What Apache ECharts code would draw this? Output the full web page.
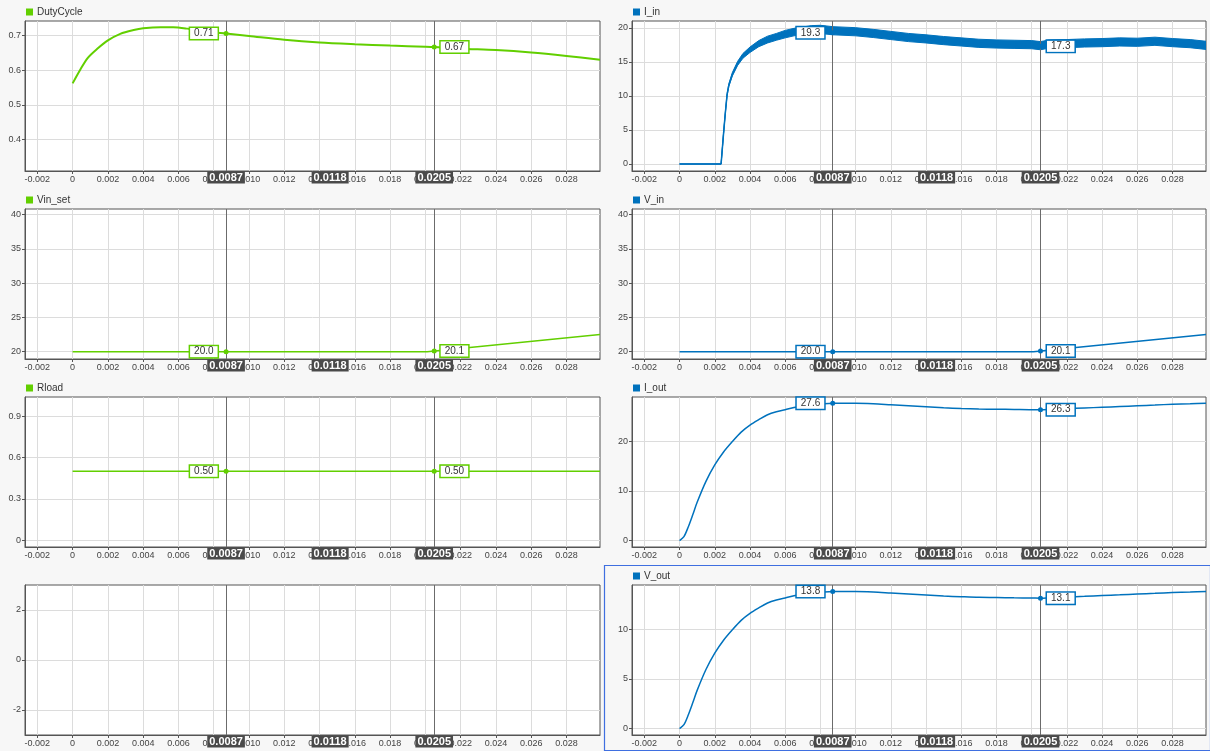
<!DOCTYPE html>
<html><head><meta charset="utf-8">
<script src="https://cdn.jsdelivr.net/npm/echarts@6/dist/echarts.min.js"></script>
<style>html,body{margin:0;padding:0;background:#f7f7f7;}#c{width:1210px;height:751px;}</style>
</head><body><div id="c"></div>
<script>
// ---------- data ----------
const xTicks = [-0.002, 0, 0.002, 0.004, 0.006, 0.008, 0.010, 0.012, 0.014, 0.016, 0.018, 0.020, 0.022, 0.024, 0.026, 0.028];
const cursorTimes = [0.0087, 0.0205];

const dutyTicks = [0.4, 0.5, 0.6, 0.7];
const vinTicks = [20, 25, 30, 35, 40];
const rloadTicks = [0, 0.3, 0.6, 0.9];
const emptyTicks = [-2, 0, 2];
const iInTicks = [0, 5, 10, 15, 20];
const iOutTicks = [0, 10, 20];
const vOutTicks = [0, 5, 10];

const dutyT = [0, 0.00044, 0.00085, 0.00138, 0.002, 0.0027, 0.00346, 0.004, 0.005, 0.0057, 0.0065, 0.0072, 0.008, 0.0087, 0.010, 0.012, 0.014, 0.016, 0.018, 0.020, 0.0205, 0.022, 0.024, 0.026, 0.028, 0.0299];
const dutyV = [0.562, 0.602, 0.635, 0.661, 0.686, 0.705, 0.716, 0.721, 0.724, 0.724, 0.720, 0.714, 0.709, 0.706, 0.699, 0.688, 0.680, 0.675, 0.671, 0.668, 0.667, 0.662, 0.658, 0.651, 0.641, 0.630];
const dutyCursor = [0.706, 0.667];

const vinT = [0, 0.0201, 0.0299];
const vinSetV = [20.0, 20.0, 22.5];
const vinSetCursor = [20.0, 20.1];
const vInV = [20.0, 20.0, 22.5];
const vInCursor = [20.0, 20.1];

const rloadT = [0, 0.0299];
const rloadV = [0.5, 0.5];
const rloadCursor = [0.5, 0.5];

const iInT = [0, 0.00236, 0.0025, 0.0026, 0.0027, 0.0028, 0.003, 0.0033, 0.0036, 0.004, 0.0045, 0.005, 0.0055, 0.006, 0.0065, 0.007, 0.0075, 0.008, 0.0087, 0.010, 0.011, 0.012, 0.013, 0.014, 0.015, 0.016, 0.017, 0.018, 0.019, 0.020, 0.0205, 0.021, 0.022, 0.023, 0.024, 0.025, 0.026, 0.027, 0.028, 0.029, 0.0299];
const iInV = [0, 0, 4.5, 7.5, 10.2, 11.6, 13.2, 14.8, 15.9, 16.8, 17.7, 18.3, 18.7, 19.1, 19.4, 19.6, 19.75, 19.8, 19.6, 19.45, 19.2, 18.9, 18.6, 18.4, 18.15, 17.95, 17.75, 17.65, 17.6, 17.55, 17.4, 17.65, 17.7, 17.8, 17.85, 17.95, 17.9, 18.05, 17.85, 17.7, 17.45];
const iInRipple = [0, 0, 0.05, 0.1, 0.15, 0.2, 0.25, 0.3, 0.35, 0.4, 0.45, 0.5, 0.5, 0.55, 0.55, 0.55, 0.6, 0.6, 0.6, 0.6, 0.6, 0.6, 0.6, 0.6, 0.6, 0.6, 0.6, 0.6, 0.6, 0.6, 0.6, 0.6, 0.6, 0.6, 0.6, 0.6, 0.6, 0.6, 0.6, 0.6, 0.6];
const iInCursor = [19.3, 17.3];

const outT = [0, 0.00025, 0.0005, 0.00075, 0.001, 0.0015, 0.002, 0.0025, 0.003, 0.0035, 0.004, 0.0045, 0.005, 0.0055, 0.006, 0.0065, 0.007, 0.0075, 0.008, 0.0087, 0.010, 0.011, 0.012, 0.013, 0.014, 0.015, 0.016, 0.017, 0.018, 0.019, 0.020, 0.0205, 0.021, 0.022, 0.023, 0.024, 0.025, 0.026, 0.027, 0.028, 0.029, 0.0299];
const iOutV = [0, 0.8, 2.8, 5.2, 7.7, 11.9, 15.2, 17.8, 19.9, 21.8, 23.2, 24.3, 25.3, 25.9, 26.3, 26.75, 27.05, 27.3, 27.45, 27.6, 27.6, 27.5, 27.3, 27.1, 26.9, 26.7, 26.55, 26.45, 26.4, 26.35, 26.3, 26.3, 26.35, 26.5, 26.65, 26.8, 26.95, 27.1, 27.25, 27.4, 27.5, 27.6];
const iOutCursor = [27.6, 26.3];
const vOutV = [0, 0.4, 1.4, 2.6, 3.85, 5.95, 7.6, 8.9, 9.95, 10.9, 11.6, 12.15, 12.65, 12.95, 13.15, 13.38, 13.52, 13.65, 13.72, 13.8, 13.8, 13.75, 13.65, 13.55, 13.45, 13.35, 13.28, 13.22, 13.2, 13.17, 13.15, 13.13, 13.17, 13.25, 13.32, 13.4, 13.47, 13.55, 13.62, 13.7, 13.75, 13.8];
const vOutCursor = [13.8, 13.13];

// ---------- layout / style ----------
const GREEN = '#62cf00', BLUE = '#0072bd';
const FONT = 'Liberation Sans, Arial, sans-serif';
const colLeft = [25, 632], colWidth = [575, 574];
const rowTop = [21, 209, 397, 585], rowH = 150;
const xMin = -0.0027, xMax = 0.0299;

const panels = [
  {name: 'DutyCycle', col: 0, row: 0, color: GREEN, yMin: 0.309, yMax: 0.742, ticks: dutyTicks, t: dutyT, v: dutyV, cur: dutyCursor, dec: 2, w: 2, smooth: 0.3},
  {name: 'Vin_set', col: 0, row: 1, color: GREEN, yMin: 18.93, yMax: 40.83, ticks: vinTicks, t: vinT, v: vinSetV, cur: vinSetCursor, dec: 1, w: 1.5},
  {name: 'Rload', col: 0, row: 2, color: GREEN, yMin: -0.05, yMax: 1.04, ticks: rloadTicks, t: rloadT, v: rloadV, cur: rloadCursor, dec: 2, w: 1.5},
  {name: null, col: 0, row: 3, color: GREEN, yMin: -3, yMax: 3, ticks: emptyTicks},
  {name: 'I_in', col: 1, row: 0, color: BLUE, yMin: -1.03, yMax: 21.03, ticks: iInTicks, t: iInT, v: iInV, band: iInRipple, cur: iInCursor, dec: 1, w: 1.5},
  {name: 'V_in', col: 1, row: 1, color: BLUE, yMin: 18.93, yMax: 40.83, ticks: vinTicks, t: vinT, v: vInV, cur: vInCursor, dec: 1, w: 1.5},
  {name: 'I_out', col: 1, row: 2, color: BLUE, yMin: -1.28, yMax: 28.86, ticks: iOutTicks, t: outT, v: iOutV, cur: iOutCursor, dec: 1, w: 1.5, smooth: 0.3},
  {name: 'V_out', col: 1, row: 3, color: BLUE, yMin: -0.64, yMax: 14.46, ticks: vOutTicks, t: outT, v: vOutV, cur: vOutCursor, dec: 1, w: 1.5, smooth: 0.3}
];

const grid = [], xAxis = [], yAxis = [], series = [], legend = [];
const zip = (t, v) => t.map((x, i) => [x, v[i]]);

panels.forEach((p, i) => {
  grid.push({left: colLeft[p.col], top: rowTop[p.row], width: colWidth[p.col], height: rowH,
    show: true, backgroundColor: '#ffffff', borderColor: '#555', borderWidth: 1});
  xAxis.push({type: 'value', gridIndex: i, min: xMin, max: xMax,
    axisLine: {show: true, onZero: false, lineStyle: {color: '#555'}},
    axisTick: {show: true, length: 3, customValues: xTicks, lineStyle: {color: '#555'}},
    axisLabel: {customValues: xTicks, fontSize: 9, color: '#444', fontFamily: FONT, margin: 4,
      formatter: v => (Math.abs(v) < 1e-12 ? '0' : v.toFixed(3))},
    splitLine: {show: true, lineStyle: {color: '#dcdcdc', width: 1}}});
  yAxis.push({type: 'value', gridIndex: i, min: p.yMin, max: p.yMax,
    axisLine: {show: true, onZero: false, lineStyle: {color: '#555'}},
    axisTick: {show: true, length: 3, customValues: p.ticks, lineStyle: {color: '#555'}},
    axisLabel: {customValues: p.ticks, fontSize: 9, color: '#444', fontFamily: FONT, margin: 4,
      formatter: v => String(p.ticks.find(t => Math.abs(t - v) < 1e-9) ?? v)},
    splitLine: {show: true, lineStyle: {color: '#dcdcdc', width: 1}}});

  // cursor markers
  const mp = [];
  const axisLbl = (x, txt) => ({coord: [x, p.yMin], symbol: 'rect', symbolSize: 1,
    itemStyle: {color: 'rgba(0,0,0,0)'},
    label: {show: true, position: 'bottom', distance: 0, formatter: txt, backgroundColor: '#4a4a4a',
      color: '#fff', fontWeight: 'bold', fontSize: 11, fontFamily: FONT, padding: [1, 2, 0, 2]}});
  cursorTimes.forEach(c => mp.push(axisLbl(c, c.toFixed(4))));
  mp.push(axisLbl((cursorTimes[0] + cursorTimes[1]) / 2, (cursorTimes[1] - cursorTimes[0]).toFixed(4)));
  if (p.cur) {
    p.cur.forEach((val, k) => mp.push({coord: [cursorTimes[k], val], symbol: 'circle', symbolSize: 5,
      itemStyle: {color: p.color},
      label: {show: true, position: k === 0 ? 'left' : 'right', distance: k === 0 ? 6 : 4,
        formatter: val.toFixed(p.dec), backgroundColor: '#fff', borderColor: p.color, borderWidth: 1.5,
        padding: [1, 4, 0, 4], color: '#333', fontSize: 10, fontFamily: FONT}}));
  }

  if (p.band) {
    const lo = p.v.map((v, k) => v - p.band[k]);
    const hi = p.v.map((v, k) => v + p.band[k]);
    series.push({type: 'custom', name: 'I_in_band', xAxisIndex: i, yAxisIndex: i, silent: true,
      animation: false, z: 2, clip: true,
      data: p.t.map((t, k) => [t, lo[k], hi[k]]),
      renderItem: (params, api) => {
        if (params.dataIndex !== 0) return null;
        const pts = [];
        for (let k = 0; k < p.t.length; k++) pts.push(api.coord([p.t[k], hi[k]]));
        for (let k = p.t.length - 1; k >= 0; k--) pts.push(api.coord([p.t[k], lo[k]]));
        return {type: 'polygon', shape: {points: pts}, style: {fill: p.color, stroke: p.color, lineWidth: 1}};
      }});
  }

  series.push({type: 'line', name: p.name || ('empty' + i), xAxisIndex: i, yAxisIndex: i,
    data: p.t ? zip(p.t, p.v) : [], showSymbol: false, smooth: p.smooth || false,
    color: p.color, lineStyle: {color: p.color, width: p.w || 1.5}, animation: false, z: 3,
    markLine: {symbol: ['none', 'none'], silent: true, animation: false, label: {show: false},
      precision: 6,
      lineStyle: {color: '#6b6b6b', width: 1, type: 'solid'},
      data: cursorTimes.map(c => [{coord: [c, p.yMin]}, {coord: [c, p.yMax]}])},
    markPoint: {silent: true, animation: false, data: mp}});

  if (p.name) {
    legend.push({data: [p.name], left: colLeft[p.col] + 1, top: rowTop[p.row] - 14,
      icon: 'rect', itemWidth: 7, itemHeight: 7, itemGap: 4, padding: 0, selectedMode: false,
      textStyle: {fontSize: 10, color: '#333', fontFamily: FONT, padding: [0, 0, 0, -1]}});
  }
});

const chart = echarts.init(document.getElementById('c'), null, {renderer: 'canvas'});
chart.setOption({
  backgroundColor: '#f7f7f7',
  animation: false,
  grid, xAxis, yAxis, series, legend,
  graphic: [{type: 'rect', left: 602, top: 563, shape: {width: 606, height: 185},
    style: {fill: 'none', stroke: '#3f6fe0', lineWidth: 1.2}, z: 100, silent: true}]
});
</script>
</body></html>
